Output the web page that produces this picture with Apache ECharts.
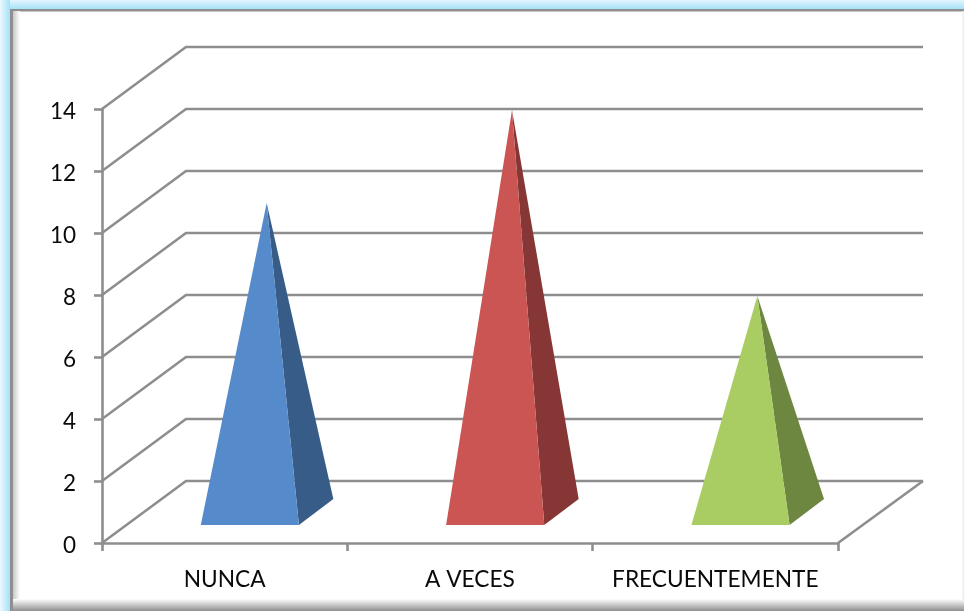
<!DOCTYPE html>
<html>
<head>
<meta charset="utf-8">
<style>
  html, body { margin: 0; padding: 0; background: #fff; }
  #chart { width: 964px; height: 611px; }
</style>
<script src="https://cdn.jsdelivr.net/npm/echarts@6/dist/echarts.min.js"></script>
</head>
<body>
<div id="chart"></div>
<script>
// Survey answers, one pyramid per category
const categories = ['NUNCA', 'A VECES', 'FRECUENTEMENTE'];
const responses = [10, 13, 7];
const valueTicks = [0, 2, 4, 6, 8, 10, 12, 14];
const faceColors = ['#558ACB', '#CB5553', '#A9CC63'];
const sideColors = ['#375C87', '#853635', '#6E8740'];

// Oblique projection used to fake the 3D box
const DEPTH_X = 84;
const DEPTH_Y = 62;
const GRID_COLOR = '#8E8E8E';
const LINE_WIDTH = 2.6;
const FONT = 'Lato, "Open Sans", sans-serif';
const BASE_RATIO = 0.4;      // pyramid width / category band
const BASE_NEAR = 18 / 62;   // near edge of the base along the depth
const BASE_FAR = 44 / 62;    // far edge of the base along the depth
const BASE_NUDGE = 0.8;      // small sideways offset of each pyramid

const chart = echarts.init(document.getElementById('chart'), null, { renderer: 'canvas' });

const { LinearGradient } = echarts.graphic;
const fade = (x, y, x2, y2, from, to) =>
  new LinearGradient(x, y, x2, y2, [{ offset: 0, color: from }, { offset: 1, color: to }]);

// Picture-frame styling of the chart area
const frame = [
  { type: 'rect', shape: { x: 0, y: 0, width: 964, height: 10 }, style: { fill: fade(0, 0, 0, 1, '#E4F6FD', '#9EDFF8') } },
  { type: 'rect', shape: { x: 0, y: 0, width: 10, height: 611 }, style: { fill: fade(0, 0, 1, 0, '#EDF9FE', '#A4E1F9') } },
  { type: 'rect', shape: { x: 10, y: 9, width: 954, height: 2.5 }, style: { fill: '#8F8F8F' } },
  { type: 'rect', shape: { x: 10, y: 9, width: 3, height: 602 }, style: { fill: '#8F8F8F' } },
  { type: 'rect', shape: { x: 13, y: 11, width: 7, height: 590 }, style: { fill: fade(0, 0, 1, 0, '#C8C8C8', '#FFFFFF') } },
  { type: 'rect', shape: { x: 13, y: 599, width: 951, height: 12 }, style: { fill: fade(0, 0, 0, 1, '#FFFFFF', '#8F8F8F') } },
  { type: 'rect', shape: { x: 962.5, y: 11, width: 1.5, height: 590 }, style: { fill: '#EDEDED' } }
];

// Side-wall diagonals and back-wall lines at each value tick
function renderWalls(params, api) {
  const v = api.value(0);
  const cs = params.coordSys;
  const front = api.coord([0, v]);
  const x0 = cs.x;
  const x1 = cs.x + cs.width;
  const back = [x0 + DEPTH_X, front[1] - DEPTH_Y];
  const lineStyle = { stroke: GRID_COLOR, lineWidth: LINE_WIDTH, fill: null };
  const children = [{
    type: 'polyline',
    shape: { points: [[x0, front[1]], back, [x1 + DEPTH_X + 1, back[1]]] },
    style: lineStyle
  }];
  if (v === 0) {
    children.push({
      type: 'line',
      shape: { x1: x1, y1: front[1], x2: x1 + DEPTH_X + 1, y2: back[1] },
      style: lineStyle
    });
  }
  return { type: 'group', children };
}

// Pyramid: front face and right-hand side face meeting at the apex
function renderPyramid(params, api) {
  const i = params.dataIndex;
  const band = api.size([1, 0])[0];
  const half = band * BASE_RATIO / 2;
  const foot = api.coord([i, 0]);
  const top = api.coord([i, api.value(1)]);
  const apex = [top[0] + DEPTH_X / 2, top[1] - DEPTH_Y / 2 + 1];
  const nearL = [foot[0] - half + DEPTH_X * BASE_NEAR + BASE_NUDGE, foot[1] - DEPTH_Y * BASE_NEAR];
  const nearR = [foot[0] + half + DEPTH_X * BASE_NEAR + BASE_NUDGE, nearL[1]];
  const farR = [foot[0] + half + DEPTH_X * BASE_FAR, foot[1] - DEPTH_Y * BASE_FAR];
  return {
    type: 'group',
    children: [
      { type: 'polygon', shape: { points: [nearR, farR, apex] }, style: { fill: sideColors[i] } },
      { type: 'polygon', shape: { points: [nearL, nearR, apex] }, style: { fill: faceColors[i] } }
    ]
  };
}

chart.setOption({
  animation: false,
  backgroundColor: '#FFFFFF',
  graphic: { elements: frame.map(el => Object.assign({ silent: true, z: -1 }, el)) },
  grid: { left: 102, right: 126, top: 109, bottom: 68 },
  xAxis: {
    type: 'category',
    data: categories,
    axisLine: { lineStyle: { color: GRID_COLOR, width: LINE_WIDTH } },
    axisTick: { show: true, alignWithLabel: false, length: 8, lineStyle: { color: GRID_COLOR, width: LINE_WIDTH } },
    axisLabel: { color: '#0A0A0A', fontFamily: FONT, fontSize: 22.7, margin: 25, interval: 0 }
  },
  yAxis: {
    type: 'value',
    min: 0,
    max: 14,
    interval: 2,
    axisLine: { show: true, lineStyle: { color: GRID_COLOR, width: LINE_WIDTH } },
    axisTick: { show: true, length: 8, lineStyle: { color: GRID_COLOR, width: LINE_WIDTH } },
    axisLabel: { color: '#0A0A0A', fontFamily: FONT, fontSize: 22.5, margin: 26, verticalAlign: 'top', lineHeight: 5 },
    splitLine: { show: false }
  },
  series: [
    {
      type: 'custom',
      coordinateSystem: 'cartesian2d',
      renderItem: renderWalls,
      clip: false,
      silent: true,
      z: 1,
      encode: { y: 0 },
      data: valueTicks.map(v => [v])
    },
    {
      type: 'custom',
      coordinateSystem: 'cartesian2d',
      renderItem: renderPyramid,
      clip: false,
      silent: true,
      z: 2,
      encode: { x: 0, y: 1 },
      data: responses.map((v, i) => [i, v])
    }
  ]
});
</script>
</body>
</html>
